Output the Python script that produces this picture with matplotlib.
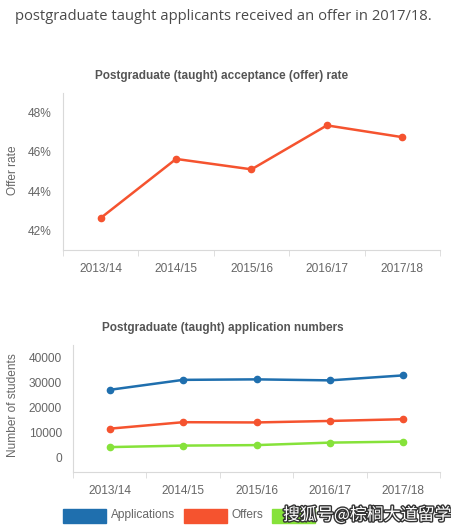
import matplotlib.pyplot as plt
import matplotlib.patheffects as pe
from matplotlib.patches import Rectangle

# data
years = ["2013/14", "2014/15", "2015/16", "2016/17", "2017/18"]
offer_rate = [42.63, 45.64, 45.11, 47.35, 46.75]
applications = [27000, 31000, 31200, 30800, 32800]
offers = [11400, 14000, 13900, 14500, 15200]
acceptances = [4000, 4600, 4800, 5800, 6200]
rate_ticks = [42, 44, 46, 48]
count_ticks = [0, 10000, 20000, 30000, 40000]

BLUE = '#1f6fae'
RED = '#f5532f'
GREEN = '#86e23a'
GREY_TXT = '#666666'
SPINE = '#d9d9d9'

plt.rcParams['font.family'] = ['Liberation Sans', 'DejaVu Sans']

fig = plt.figure(figsize=(4.52, 5.30), dpi=100)
W, H = 452, 530


def px_axes(left, top, right, bottom):
    return fig.add_axes([left / W, 1 - bottom / H, (right - left) / W, (bottom - top) / H])


def style(ax):
    for s in ['top', 'right']:
        ax.spines[s].set_visible(False)
    ax.spines['left'].set_color(SPINE)
    ax.spines['bottom'].set_color(SPINE)
    ax.set_xlim(-0.5, len(years) - 0.5)
    ax.set_xticks(range(len(years)))
    ax.set_xticklabels(years)
    ax.set_xticks([i - 0.5 for i in range(len(years) + 1)], minor=True)
    ax.tick_params(axis='x', which='major', length=0, pad=9, labelsize=8.6, labelcolor=GREY_TXT)
    ax.tick_params(axis='x', which='minor', length=4, color=SPINE)
    ax.tick_params(axis='y', length=0, pad=8, labelsize=8.6, labelcolor=GREY_TXT)


# header sentence
fig.text(15 / W, 1 - 17 / H, "postgraduate taught applicants received an offer in 2017/18.",
         fontsize=10.6, color='#4a4a4a', family=['Open Sans', 'DejaVu Sans'], va='center')

# top chart: offer rate
ax1 = px_axes(63, 93, 440, 250)
ax1.plot(range(len(years)), offer_rate, color=RED, lw=1.8, marker='o', ms=4.5)
ax1.set_ylim(41, 49)
ax1.set_yticks(rate_ticks)
ax1.set_yticklabels([f"{t}%" for t in rate_ticks])
style(ax1)
fig.text(222 / W, 1 - 76 / H, "Postgraduate (taught) acceptance (offer) rate",
         ha='center', va='center', fontsize=8.5, fontweight='bold', color='#555555')
fig.text(13 / W, 1 - 170 / H, "Offer rate", rotation=90, ha='center', va='center',
         fontsize=8.6, color=GREY_TXT)

# bottom chart: application numbers
ax2 = px_axes(73, 345, 440, 472)
ax2.plot(range(len(years)), applications, color=BLUE, lw=1.8, marker='o', ms=4.5)
ax2.plot(range(len(years)), offers, color=RED, lw=1.8, marker='o', ms=4.5)
ax2.plot(range(len(years)), acceptances, color=GREEN, lw=1.8, marker='o', ms=4.5)
ax2.set_ylim(-6000, 45000)
ax2.set_yticks(count_ticks)
style(ax2)
fig.text(223 / W, 1 - 328 / H, "Postgraduate (taught) application numbers",
         ha='center', va='center', fontsize=8.5, fontweight='bold', color='#555555')
fig.text(13 / W, 1 - 405 / H, "Number of students", rotation=90, ha='center', va='center',
         fontsize=8.6, color=GREY_TXT)

# legend drawn by hand to match the boxy swatches; the third label is hidden by the watermark
legend = [("Applications", BLUE, 63), ("Offers", RED, 184), ("", GREEN, 272)]
for label, col, x0 in legend:
    fig.patches.append(Rectangle((x0 / W, 1 - 523 / H), 43 / W, 14 / H,
                                 transform=fig.transFigure, color=col, figure=fig))
    if label:
        fig.text((x0 + 48) / W, 1 - 515 / H, label, va='center', fontsize=8.6, color=GREY_TXT)

# watermark
fig.text(283 / W, 1 - 515 / H, "搜狐号@棕榈大道留学", va='center', fontsize=12.2,
         color='white', family=['Noto Sans CJK SC', 'DejaVu Sans'],
         path_effects=[pe.withStroke(linewidth=2, foreground='#333333')])

fig.savefig('out.png', dpi=100)
